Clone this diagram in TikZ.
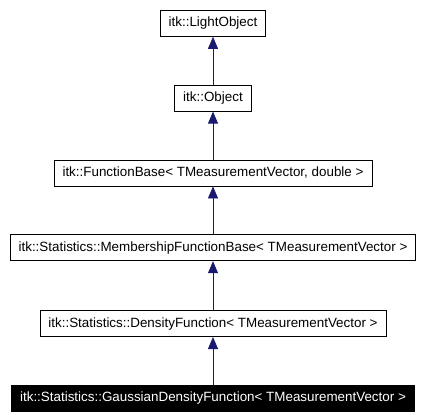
\documentclass[tikz,border=0pt]{standalone}
\usepackage{fontspec}
\setmainfont{Liberation Sans}
\usetikzlibrary{arrows.meta,positioning}
\definecolor{inhNavy}{HTML}{191970}

\begin{document}
\begin{tikzpicture}[x=1pt,y=1pt,font=\fontsize{13.4}{15}\selectfont,
   cls/.style={draw=black,fill=white,line width=0.8pt,minimum height=26pt,
               inner xsep=8.5pt,inner ysep=0pt,anchor=north},
   self/.style={cls,fill=black,text=white},
   inh/.style={draw=inhNavy,line width=0.8pt,-{Triangle[length=12pt,width=10pt]}}]
  \useasboundingbox (0,0) rectangle (426,-415);
  \node[cls] (light) at (213,-10) {itk::LightObject};
  \node[cls,below=48pt of light] (obj) {itk::Object};
  \node[cls,below=48pt of obj] (fbase) {itk::FunctionBase< TMeasurementVector, double >};
  \node[cls,below=48pt of fbase] (mbase) {itk::Statistics::MembershipFunctionBase< TMeasurementVector >};
  \node[cls,below=49pt of mbase] (dens) {itk::Statistics::DensityFunction< TMeasurementVector >};
  \node[self,below=48pt of dens] (gauss) {itk::Statistics::GaussianDensityFunction< TMeasurementVector >};
  % child -> parent
  \draw[inh] (obj) -- (light);
  \draw[inh] (fbase) -- (obj);
  \draw[inh] (mbase) -- (fbase);
  \draw[inh] (dens) -- (mbase);
  \draw[inh] (gauss) -- (dens);
\end{tikzpicture}
\end{document}
